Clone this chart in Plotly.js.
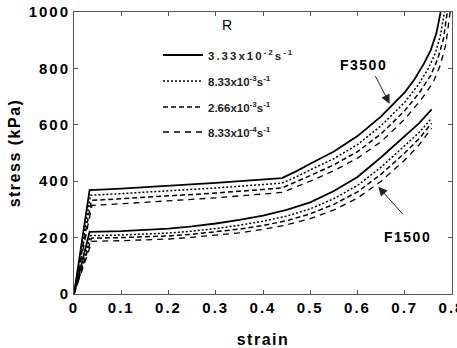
<!DOCTYPE html>
<html><head><meta charset="utf-8">
<script src="https://cdn.plot.ly/plotly-3.0.1.min.js"></script>
<style>
html,body{margin:0;padding:0;background:#fff;}
#chart{width:457px;height:348px;}
.xtick text,.ytick text{letter-spacing:2px;}
.g-xtitle text,.g-ytitle text{letter-spacing:1.5px;}
.legendtext{letter-spacing:2px;}
.annotation-text{letter-spacing:1.5px;}
</style></head><body><div id="chart"></div>
<script>
// Strain-rate labels (legend)
const rateLabels = [
  '3.33x10<sup>-2</sup>s<sup>-1</sup>',
  '8.33x10<sup>-3</sup>s<sup>-1</sup>',
  '2.66x10<sup>-3</sup>s<sup>-1</sup>',
  '8.33x10<sup>-4</sup>s<sup>-1</sup>'
];
const groupNames = ['F3500', 'F1500'];

// F3500 curves (strain, stress kPa)
const f3500Strain1 = [0, 0.033, 0.1, 0.2, 0.3, 0.44, 0.47, 0.5, 0.55, 0.6, 0.65, 0.7, 0.72, 0.74, 0.755, 0.767, 0.776];
const f3500Stress1 = [0, 368, 374, 384, 394, 411, 435, 462, 505, 560, 630, 715, 760, 815, 865, 925, 1000];
const f3500Strain2 = [0, 0.035, 0.1, 0.2, 0.3, 0.44, 0.47, 0.5, 0.55, 0.6, 0.65, 0.7, 0.73, 0.75, 0.765, 0.776, 0.784];
const f3500Stress2 = [0, 350, 356, 366, 376, 393, 415, 440, 480, 530, 597, 680, 745, 800, 855, 920, 1000];
const f3500Strain3 = [0, 0.037, 0.1, 0.2, 0.3, 0.44, 0.47, 0.5, 0.55, 0.6, 0.65, 0.7, 0.73, 0.755, 0.77, 0.782, 0.79];
const f3500Stress3 = [0, 332, 338, 348, 358, 376, 397, 420, 458, 505, 568, 650, 712, 775, 835, 905, 1000];
const f3500Strain4 = [0, 0.038, 0.1, 0.2, 0.3, 0.44, 0.47, 0.5, 0.55, 0.6, 0.65, 0.7, 0.735, 0.76, 0.775, 0.787, 0.796];
const f3500Stress4 = [0, 314, 320, 330, 341, 360, 379, 400, 437, 482, 540, 620, 690, 750, 810, 885, 1000];

// F1500 curves (strain, stress kPa)
const f1500Strain1 = [0, 0.033, 0.1, 0.2, 0.25, 0.3, 0.35, 0.4, 0.45, 0.5, 0.55, 0.6, 0.65, 0.7, 0.73, 0.757];
const f1500Stress1 = [0, 220, 223, 232, 240, 250, 263, 278, 298, 325, 365, 415, 485, 560, 605, 655];
const f1500Strain2 = [0, 0.035, 0.1, 0.2, 0.25, 0.3, 0.35, 0.4, 0.45, 0.5, 0.55, 0.6, 0.65, 0.7, 0.73, 0.757];
const f1500Stress2 = [0, 207, 209, 216, 223, 232, 244, 258, 276, 302, 338, 385, 450, 525, 572, 624];
const f1500Strain3 = [0, 0.037, 0.1, 0.2, 0.25, 0.3, 0.35, 0.4, 0.45, 0.5, 0.55, 0.6, 0.65, 0.7, 0.73, 0.757];
const f1500Stress3 = [0, 198, 200, 206, 212, 220, 230, 243, 260, 284, 318, 362, 425, 500, 550, 606];
const f1500Strain4 = [0, 0.038, 0.1, 0.2, 0.25, 0.3, 0.35, 0.4, 0.45, 0.5, 0.55, 0.6, 0.65, 0.7, 0.73, 0.757];
const f1500Stress4 = [0, 187, 189, 195, 201, 208, 217, 229, 245, 267, 298, 340, 400, 475, 528, 588];

// Tick values
const xTicks = [0, 0.1, 0.2, 0.3, 0.4, 0.5, 0.6, 0.7, 0.8];
const xTickText = ['0', '0.1', '0.2', '0.3', '0.4', '0.5', '0.6', '0.7', '0.8'];
const yTicks = [0, 200, 400, 600, 800, 1000];

const upper = [[f3500Strain1, f3500Stress1], [f3500Strain2, f3500Stress2], [f3500Strain3, f3500Stress3], [f3500Strain4, f3500Stress4]];
const lower = [[f1500Strain1, f1500Stress1], [f1500Strain2, f1500Stress2], [f1500Strain3, f1500Stress3], [f1500Strain4, f1500Stress4]];
const dashes = ['solid', '2px,2px', '5px,3px', '6px,5px'];
const widths = [1.8, 1.5, 1.5, 1.3];
const legendIds = ['legend', 'legend2', 'legend3', 'legend4'];

const traces = [];
upper.forEach((d, i) => traces.push({
  x: d[0], y: d[1], type: 'scatter', mode: 'lines', name: rateLabels[i],
  legend: legendIds[i], showlegend: true,
  line: {color: '#000', width: widths[i], dash: dashes[i]}
}));
lower.forEach((d, i) => traces.push({
  x: d[0], y: d[1], type: 'scatter', mode: 'lines', name: rateLabels[i],
  legend: legendIds[i], showlegend: false,
  line: {color: '#000', width: widths[i], dash: dashes[i]}
}));

const W = 457, H = 348, L = 74, R = 5, T = 12, B = 54;
const px2x = p => (p - L) / (W - L - R);
const py2y = p => (H - B - p) / (H - T - B);
const legRows = [55, 81, 107, 132];
const legFont = {family: 'Liberation Sans, Arial, sans-serif', size: 11.5, color: '#222', weight: 'bold'};
const makeLegend = (row) => ({
  x: px2x(158), y: py2y(row), xanchor: 'left', yanchor: 'middle',
  bgcolor: 'rgba(0,0,0,0)', borderwidth: 0, font: legFont, itemwidth: 40
});
const annFont = {family: 'Liberation Sans, Arial, sans-serif', size: 14, color: '#000', weight: 'bold'};

const axisCommon = {
  showline: true, linecolor: '#555', linewidth: 1, mirror: 'ticks',
  ticks: 'inside', ticklen: 4, tickcolor: '#555', showgrid: false, zeroline: false,
  ticklabeloverflow: 'allow',
  tickfont: {family: 'Liberation Sans, Arial, sans-serif', size: 15, color: '#000', weight: 'bold'}
};

const layout = {
  width: W, height: H,
  margin: {l: L, r: R, t: T, b: B},
  paper_bgcolor: '#fff', plot_bgcolor: '#fff',
  xaxis: Object.assign({}, axisCommon, {
    range: [0, 0.8], tickvals: xTicks, ticktext: xTickText,
    title: {text: 'strain', standoff: 18, font: {family: 'Liberation Sans, Arial, sans-serif', size: 16, color: '#000', weight: 'bold'}}
  }),
  yaxis: Object.assign({}, axisCommon, {
    range: [0, 1000], tickvals: yTicks,
    title: {text: 'stress (kPa)', standoff: 4, font: {family: 'Liberation Sans, Arial, sans-serif', size: 16, color: '#000', weight: 'bold'}}
  }),
  legend: makeLegend(legRows[0]),
  legend2: makeLegend(legRows[1]),
  legend3: makeLegend(legRows[2]),
  legend4: makeLegend(legRows[3]),
  annotations: [
    {xref: 'paper', yref: 'paper', x: px2x(228), y: py2y(25), xanchor: 'center', yanchor: 'middle',
     text: 'R', showarrow: false,
     font: {family: 'Liberation Sans, Arial, sans-serif', size: 14, color: '#000'}},
    {xref: 'paper', yref: 'paper', x: px2x(363), y: py2y(65), xanchor: 'center', yanchor: 'middle',
     text: groupNames[0], showarrow: false, font: annFont},
    {xref: 'paper', yref: 'paper', x: px2x(407), y: py2y(237), xanchor: 'center', yanchor: 'middle',
     text: groupNames[1], showarrow: false, font: annFont},
    {x: 0.668, y: 675, text: '', showarrow: true, ax: -15, ay: -29,
     arrowhead: 2, arrowsize: 1.8, arrowwidth: 1, arrowcolor: '#222'},
    {x: 0.644, y: 380, text: '', showarrow: true, ax: 26, ay: 29,
     arrowhead: 2, arrowsize: 1.8, arrowwidth: 1, arrowcolor: '#222'}
  ],
  showlegend: true
};

Plotly.newPlot('chart', traces, layout, {displayModeBar: false, staticPlot: true});
</script></body></html>
